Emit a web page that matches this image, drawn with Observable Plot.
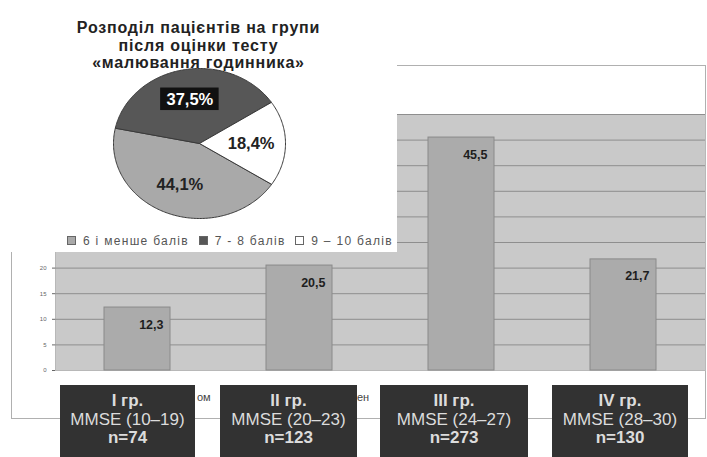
<!DOCTYPE html>
<html>
<head>
<meta charset="utf-8">
<script src="https://cdn.jsdelivr.net/npm/d3@7"></script>
<script src="https://cdn.jsdelivr.net/npm/@observablehq/plot@0.6"></script>
<style>
  body { margin: 0; background: #fff; font-family: "Liberation Sans", Arial, sans-serif; }
  #wrap { position: relative; width: 707px; height: 457px; overflow: hidden; background: #fff; }
  #outer { position: absolute; left: 11px; top: 65px; width: 693px; height: 352px; border: 1px solid #b0b0b0; }
  #bars { position: absolute; left: 0; top: 0; }
  #inset { position: absolute; left: 0; top: 0; width: 397px; height: 252px; background: #fff; }
  #title { position: absolute; left: 0; top: 19px; width: 397px; text-align: center; font-weight: bold;
           font-size: 16px; line-height: 17.5px; letter-spacing: 0.8px; color: #222; }
  #pie { position: absolute; left: 99px; top: 58px; }
  #legend { position: absolute; left: 62px; top: 234px; font-size: 12px; letter-spacing: 1.3px; color: #555; white-space: nowrap; }
  #legend span.sw { display: inline-block; width: 7px; height: 7px; border: 1px solid #666; margin: 0 7px 0 5px; vertical-align: 0px; }
  .box { position: absolute; top: 385px; height: 80px; background: #323232; color: #dcdcdc; text-align: center;
         font-size: 17px; line-height: 18.5px; padding-top: 7px; box-sizing: border-box; }
  .box b { font-weight: bold; }
  .frag { position: absolute; top: 391px; font-size: 11px; color: #444; }
</style>
</head>
<body>
<div id="wrap">
  <div id="outer"></div>
  <div id="bars"></div>
  <div id="inset">
    <div id="title"></div>
    <div id="pie"></div>
    <div id="legend"></div>
  </div>
  <div class="frag" style="left:197px">ом</div>
  <div class="frag" style="left:357px">ен</div>
</div>
<script>
// Share of patients per MMSE group, %
const groups = ["I гр.", "II гр.", "III гр.", "IV гр."];
const groupRanges = ["MMSE (10–19)", "MMSE (20–23)", "MMSE (24–27)", "MMSE (28–30)"];
const groupCounts = [74, 123, 273, 130];
const groupShares = [12.3, 20.5, 45.5, 21.7];
const yTicks = [0, 5, 10, 15, 20, 25, 30, 35, 40, 45, 50];

// Clock-drawing test score groups, %
const pieTitle = ["Розподіл пацієнтів на групи", "після оцінки тесту", "«малювання годинника»"];
const pieLabels = ["6 і менше балів", "7 - 8 балів", "9 – 10 балів"];
const pieValues = [44.1, 37.5, 18.4];
const pieColors = ["#a9a9a9", "#575757", "#ffffff"];

const comma = v => v.toFixed(1).replace(".", ",");

// ---- bar chart ----
const bars = groups.map((g, i) => ({group: g, value: groupShares[i]}));

const barPlot = Plot.plot({
  width: 707,
  height: 457,
  marginLeft: 55,
  marginRight: 2,
  marginTop: 114,
  marginBottom: 87,
  style: {background: "transparent", fontFamily: "Liberation Sans, Arial, sans-serif", fontSize: "6px", color: "#666"},
  x: {domain: groups, padding: 0, axis: null},
  y: {domain: [0, 50], ticks: yTicks, tickSize: 3, tickPadding: 6, label: null},
  marks: [
    Plot.frame({fill: "#c9c9c9", stroke: "#b8b8b8"}),
    Plot.ruleY(yTicks.slice(1), {stroke: "#8e8e8e", strokeWidth: 1}),
    Plot.barY(bars, {x: "group", y: "value", fill: "#ababab", stroke: "#8a8a8a", insetLeft: 48, insetRight: 48}),
    Plot.text(bars, {x: "group", y: "value", text: d => comma(d.value), textAnchor: "end", dx: 26, dy: 17,
                     fontWeight: "bold", fontSize: 12.5, fill: "#1e1e1e"})
  ]
});
document.getElementById("bars").appendChild(barPlot);

// ---- group boxes under the bars ----
const boxPos = [[60, 135], [220, 137], [380, 148], [552, 136]];
const wrap = document.getElementById("wrap");
groups.forEach((g, i) => {
  const el = document.createElement("div");
  el.className = "box";
  el.style.left = boxPos[i][0] + "px";
  el.style.width = boxPos[i][1] + "px";
  el.innerHTML = `<b>${g}</b><br>${groupRanges[i]}<br><b>n=${groupCounts[i]}</b>`;
  wrap.appendChild(el);
});

// ---- pie inset ----
document.getElementById("title").innerHTML = pieTitle.join("<br>");

const arcs = d3.pie().sort(null)
  .startAngle(123 * Math.PI / 180)
  .endAngle((123 + 360) * Math.PI / 180)(pieValues);

const slicePts = [];
const sliceLabels = [];
arcs.forEach((a, i) => {
  const label = pieLabels[i];
  const n = Math.ceil((a.endAngle - a.startAngle) / (Math.PI / 180));
  slicePts.push({x: 0, y: 0, label});
  for (let k = 0; k <= n; k++) {
    const t = a.startAngle + (a.endAngle - a.startAngle) * k / n;
    slicePts.push({x: Math.sin(t), y: Math.cos(t), label});
  }
  slicePts.push({x: 0, y: 0, label});
  const mid = (a.startAngle + a.endAngle) / 2;
  sliceLabels.push({x: 0.6 * Math.sin(mid), y: 0.6 * Math.cos(mid), text: comma(a.value) + "%", dark: i === 1});
});

const piePlot = Plot.plot({
  width: 200,
  height: 170,
  margin: 0,
  style: {background: "transparent", fontFamily: "Liberation Sans, Arial, sans-serif"},
  x: {domain: [-1, 1], range: [14, 186], axis: null},
  y: {domain: [-1, 1], range: [160, 10], axis: null},
  color: {domain: pieLabels, range: pieColors},
  marks: [
    Plot.line(slicePts, {x: "x", y: "y", z: "label", fill: "label", stroke: "#3a3a3a", strokeWidth: 1}),
    Plot.rect(sliceLabels.filter(d => d.dark), {x1: d => d.x - 0.34, x2: d => d.x + 0.34,
                                                y1: d => d.y - 0.15, y2: d => d.y + 0.15, fill: "#111"}),
    Plot.text(sliceLabels.filter(d => d.dark), {x: "x", y: "y", text: "text", fill: "#fff",
                                               fontWeight: "bold", fontSize: 16.5}),
    Plot.text(sliceLabels.filter(d => !d.dark), {x: "x", y: "y", text: "text", fill: "#222",
                                                fontWeight: "bold", fontSize: 16.5})
  ]
});
document.getElementById("pie").appendChild(piePlot);

// legend
document.getElementById("legend").innerHTML = pieLabels
  .map((l, i) => `<span class="sw" style="background:${pieColors[i]}"></span>${l}`)
  .join(" ");
</script>
</body>
</html>
